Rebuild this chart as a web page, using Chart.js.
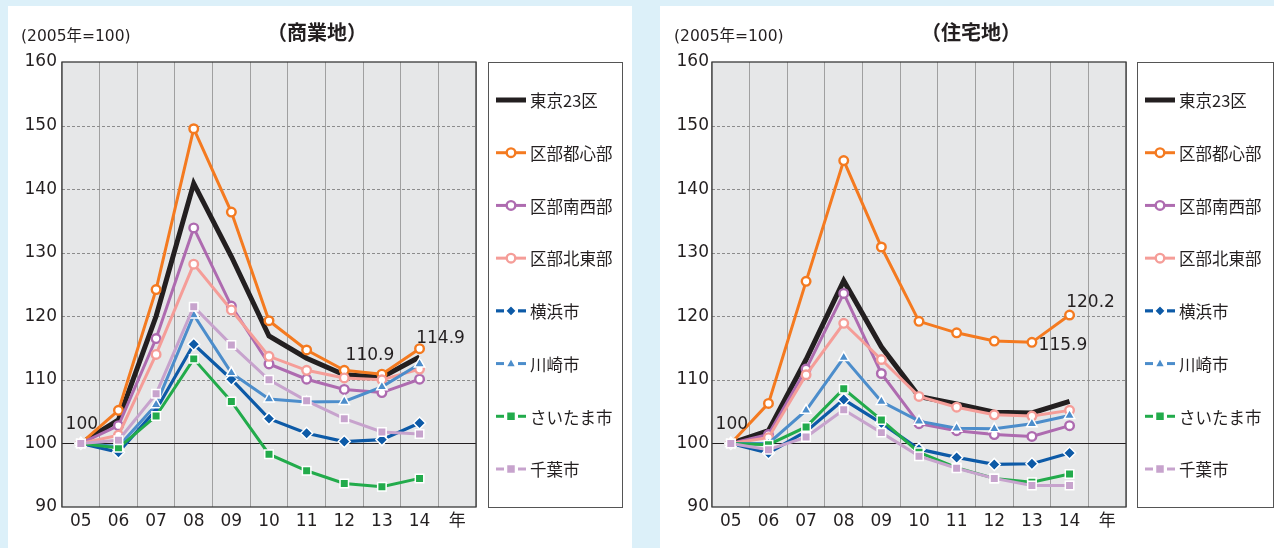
<!DOCTYPE html>
<html><head><meta charset="utf-8">
<script src="https://cdn.jsdelivr.net/npm/chart.js@4/dist/chart.umd.min.js"></script>
<style>
html,body{margin:0;padding:0;background:#dcf0f9;width:1274px;height:548px;overflow:hidden;}
.panel{position:absolute;top:6px;height:542px;background:#fff;}
#p1{left:8px;width:624px;}
#p2{left:660px;width:614px;}
canvas{display:block;}
</style></head><body>
<div class="panel" id="p1"><canvas id="c1" width="624" height="542"></canvas></div>
<div class="panel" id="p2"><canvas id="c2" width="614" height="542"></canvas></div>
<script>
// ---- data ----
const categories = ['05','06','07','08','09','10','11','12','13','14','年'];
const seriesNames = ['東京23区','区部都心部','区部南西部','区部北東部','横浜市','川崎市','さいたま市','千葉市'];
const yTicks = [90,100,110,120,130,140,150,160];

const comTokyo23    = [100, 103.7, 120.0, 140.9, 129.4, 116.9, 113.4, 110.8, 110.4, 113.6, null];
const comCenter     = [100, 105.2, 124.2, 149.5, 136.4, 119.3, 114.7, 111.5, 110.9, 114.9, null];
const comSouthWest  = [100, 102.8, 116.5, 133.9, 121.6, 112.5, 110.1, 108.5, 108.0, 110.1, null];
const comNorthEast  = [100, 101.3, 114.0, 128.2, 121.0, 113.7, 111.5, 110.3, 110.0, 111.7, null];
const comYokohama   = [100,  98.6, 105.3, 115.6, 110.1, 103.9, 101.6, 100.3, 100.6, 103.2, null];
const comKawasaki   = [100,  99.5, 106.1, 120.2, 111.1, 107.0, 106.5, 106.6, 108.9, 112.5, null];
const comSaitama    = [100,  99.3, 104.3, 113.3, 106.6,  98.3,  95.7,  93.7,  93.2,  94.5, null];
const comChiba      = [100, 100.5, 107.8, 121.5, 115.5, 110.0, 106.7, 103.9, 101.8, 101.5, null];

const resTokyo23    = [100, 102.0, 113.2, 125.6, 115.2, 107.4, 106.2, 104.9, 104.8, 106.6, null];
const resCenter     = [100, 106.3, 125.5, 144.5, 130.9, 119.2, 117.4, 116.1, 115.9, 120.2, null];
const resSouthWest  = [100, 101.4, 111.7, 123.6, 111.0, 103.1, 102.0, 101.4, 101.1, 102.8, null];
const resNorthEast  = [100, 100.9, 110.8, 118.9, 113.2, 107.4, 105.7, 104.5, 104.3, 105.2, null];
const resYokohama   = [100,  98.5, 101.9, 106.9, 103.2,  99.1,  97.8,  96.7,  96.8,  98.5, null];
const resKawasaki   = [100, 100.0, 105.2, 113.5, 106.6, 103.5, 102.4, 102.3, 103.1, 104.4, null];
const resSaitama    = [100,  99.8, 102.6, 108.6, 103.7,  98.6,  96.2,  94.5,  93.9,  95.2, null];
const resChiba      = [100,  99.0, 101.0, 105.3, 101.7,  98.0,  96.1,  94.5,  93.4,  93.4, null];

// labelled points: [series index, category index]
const comLabelled = [[0,0],[1,8],[1,9]];
const resLabelled = [[0,0],[1,9],[1,8]];

// ---- styles ----
const NUM_FONT = '"DejaVu Sans", "Noto Sans CJK JP", sans-serif';
const JP_FONT = '"Noto Sans CJK JP", "DejaVu Sans", sans-serif';
const TEXT = '#231f20';
const styles = [
  {color:'#231f20', width:5, point:'none'},
  {color:'#f47a20', width:3, point:'circle'},
  {color:'#ae6bb0', width:3, point:'circle'},
  {color:'#f59d98', width:3, point:'circle'},
  {color:'#0d5aa7', width:3.2, point:'rectRot'},
  {color:'#4c8dcb', width:3, point:'triangle'},
  {color:'#22ab4b', width:3, point:'rect'},
  {color:'#c7a3cd', width:3, point:'rect'}
];

function pointOpts(s){
  if (s.point==='none') return {pointRadius:0, pointHoverRadius:0};
  if (s.point==='circle') return {pointStyle:'circle', pointRadius:4.3, pointBorderWidth:2.4, pointBackgroundColor:'#fff', pointBorderColor:s.color};
  if (s.point==='rectRot') return {pointStyle:'rectRot', pointRadius:6, pointBorderWidth:1.5, pointBackgroundColor:s.color, pointBorderColor:'#fff'};
  if (s.point==='triangle') return {pointStyle:'triangle', pointRadius:6, pointBorderWidth:1.5, pointBackgroundColor:s.color, pointBorderColor:'#fff'};
  return {pointStyle:'rect', pointRadius:6, pointBorderWidth:1.5, pointBackgroundColor:s.color, pointBorderColor:'#fff'};
}

function makeDatasets(arrs){
  return arrs.map((d,i)=>Object.assign({
    label: seriesNames[i], data: d, borderColor: styles[i].color, borderWidth: styles[i].width,
    tension: 0, fill: false, order: arrs.length - i, borderJoinStyle:'miter', spanGaps:false
  }, pointOpts(styles[i])));
}

function drawMarker(ctx, s, x, y){
  ctx.save();
  if (s.point==='circle'){
    ctx.beginPath(); ctx.arc(x,y,4.3,0,Math.PI*2);
    ctx.fillStyle='#fff'; ctx.fill(); ctx.lineWidth=2.4; ctx.strokeStyle=s.color; ctx.stroke();
  } else if (s.point==='rectRot'){
    ctx.beginPath(); ctx.moveTo(x,y-5.5); ctx.lineTo(x+5.5,y); ctx.lineTo(x,y+5.5); ctx.lineTo(x-5.5,y); ctx.closePath();
    ctx.fillStyle=s.color; ctx.fill(); ctx.lineWidth=1.5; ctx.strokeStyle='#fff'; ctx.stroke();
  } else if (s.point==='triangle'){
    ctx.beginPath(); ctx.moveTo(x,y-5.5); ctx.lineTo(x+5,y+3.5); ctx.lineTo(x-5,y+3.5); ctx.closePath();
    ctx.fillStyle=s.color; ctx.fill(); ctx.lineWidth=1.5; ctx.strokeStyle='#fff'; ctx.stroke();
  } else if (s.point==='rect'){
    ctx.beginPath(); ctx.rect(x-4.5,y-4.5,9,9);
    ctx.fillStyle=s.color; ctx.fill(); ctx.lineWidth=1.5; ctx.strokeStyle='#fff'; ctx.stroke();
  }
  ctx.restore();
}

function makeChart(canvasId, title, arrs, labelled, cfg){
  const deco = {
    id:'deco',
    beforeDraw(chart){
      const {ctx, chartArea:a} = chart;
      ctx.save(); ctx.fillStyle='#e6e7e8'; ctx.fillRect(a.left,a.top,a.right-a.left,a.bottom-a.top); ctx.restore();
    },
    beforeDatasetsDraw(chart){
      const {ctx, chartArea:a} = chart; const ys = chart.scales.y;
      ctx.save();
      yTicks.forEach(v=>{
        if (v===90 || v===160) return;
        const y = Math.round(ys.getPixelForValue(v))+0.5;
        ctx.beginPath();
        if (v===100){ ctx.setLineDash([]); ctx.strokeStyle='#231f20'; ctx.lineWidth=1; }
        else { ctx.setLineDash([3,2]); ctx.strokeStyle='#8c8c8c'; ctx.lineWidth=1; }
        ctx.moveTo(a.left,y); ctx.lineTo(a.right,y); ctx.stroke();
      });
      ctx.setLineDash([]);
      ctx.strokeStyle='#3a3a3a'; ctx.lineWidth=1.3;
      ctx.strokeRect(a.left,a.top,a.right-a.left,a.bottom-a.top);
      ctx.restore();
    },
    afterDraw(chart){
      const {ctx, chartArea:a} = chart;
      ctx.save();
      // title and unit
      ctx.fillStyle=TEXT; ctx.textBaseline='middle';
      ctx.font='bold 20px '+JP_FONT; ctx.textAlign='center';
      ctx.fillText(title, cfg.titleX, 26);
      ctx.font='15.5px '+NUM_FONT; ctx.textAlign='left';
      ctx.fillText('(2005年=100)', cfg.unitX, 31);
      // legend box
      const lx = a.right + cfg.legendGap, lw = cfg.legendW;
      ctx.strokeStyle='#555'; ctx.lineWidth=1;
      ctx.strokeRect(lx+0.5, a.top+0.5, lw, a.bottom-a.top);
      const first = a.top + 38, step = (a.bottom - a.top - 76)/7;
      seriesNames.forEach((name,i)=>{
        const s = styles[i]; const y = first + step*i; const x0 = lx + 8;
        ctx.beginPath(); ctx.strokeStyle=s.color; ctx.lineWidth=s.width; ctx.lineCap='butt';
        ctx.moveTo(x0,y); ctx.lineTo(x0+30,y); ctx.stroke();
        if (s.point!=='none'){
          if (s.point!=='circle'){ ctx.fillStyle='#fff'; ctx.fillRect(x0+8,y-4,14,8); }
          drawMarker(ctx, s, x0+15, y);
        }
        ctx.fillStyle=TEXT; ctx.font='16.5px '+JP_FONT; ctx.textAlign='left'; ctx.textBaseline='middle';
        ctx.fillText(name, x0+34, y+1);
      });
      // value labels
      ctx.font='17px '+NUM_FONT; ctx.textAlign='center'; ctx.fillStyle=TEXT;
      labelled.forEach(([ds,idx],k)=>{
        const p = chart.getDatasetMeta(ds).data[idx];
        const v = chart.data.datasets[ds].data[idx];
        const off = cfg.labelOffsets[k];
        const txt = (v===100) ? '100' : v.toFixed(1);
        ctx.fillText(txt, p.x+off[0], p.y+off[1]);
      });
      ctx.restore();
    }
  };
  return new Chart(document.getElementById(canvasId), {
    type:'line',
    data:{labels:categories, datasets:makeDatasets(arrs)},
    options:{
      responsive:false, animation:false, devicePixelRatio:1,
      layout:{padding:{top:56, right:cfg.rightPad, bottom:11, left:0}},
      plugins:{legend:{display:false}, tooltip:{enabled:false}},
      scales:{
        x:{offset:true, grid:{offset:true, color:'#a0a0a0', lineWidth:1, drawTicks:false},
           border:{display:false},
           ticks:{color:TEXT, font:{size:17, family:NUM_FONT}, padding:4, maxRotation:0, autoSkip:false},
           afterFit(s){ s.height = 30; }},
        y:{min:90, max:160,
           afterBuildTicks(s){ s.ticks = yTicks.map(v=>({value:v})); },
           grid:{display:false, drawTicks:false}, border:{display:false},
           ticks:{color:TEXT, font:{size:17, family:NUM_FONT}, padding:cfg.yPad},
           afterFit(s){ s.width = cfg.yWidth; }}
      }
    },
    plugins:[deco]
  });
}

makeChart('c1', '（商業地）',
  [comTokyo23, comCenter, comSouthWest, comNorthEast, comYokohama, comKawasaki, comSaitama, comChiba],
  comLabelled,
  {titleX:309, unitX:13, yWidth:54, rightPad:156, yPad:5, legendGap:12, legendW:134,
   labelOffsets:[[1,-19],[-12,-19],[21,-10]]});

makeChart('c2', '（住宅地）',
  [resTokyo23, resCenter, resSouthWest, resNorthEast, resYokohama, resKawasaki, resSaitama, resChiba],
  resLabelled,
  {titleX:311, unitX:14, yWidth:52, rightPad:148, yPad:3, legendGap:11, legendW:136,
   labelOffsets:[[1,-19],[21,-12],[31,3]]});
</script>
</body></html>
